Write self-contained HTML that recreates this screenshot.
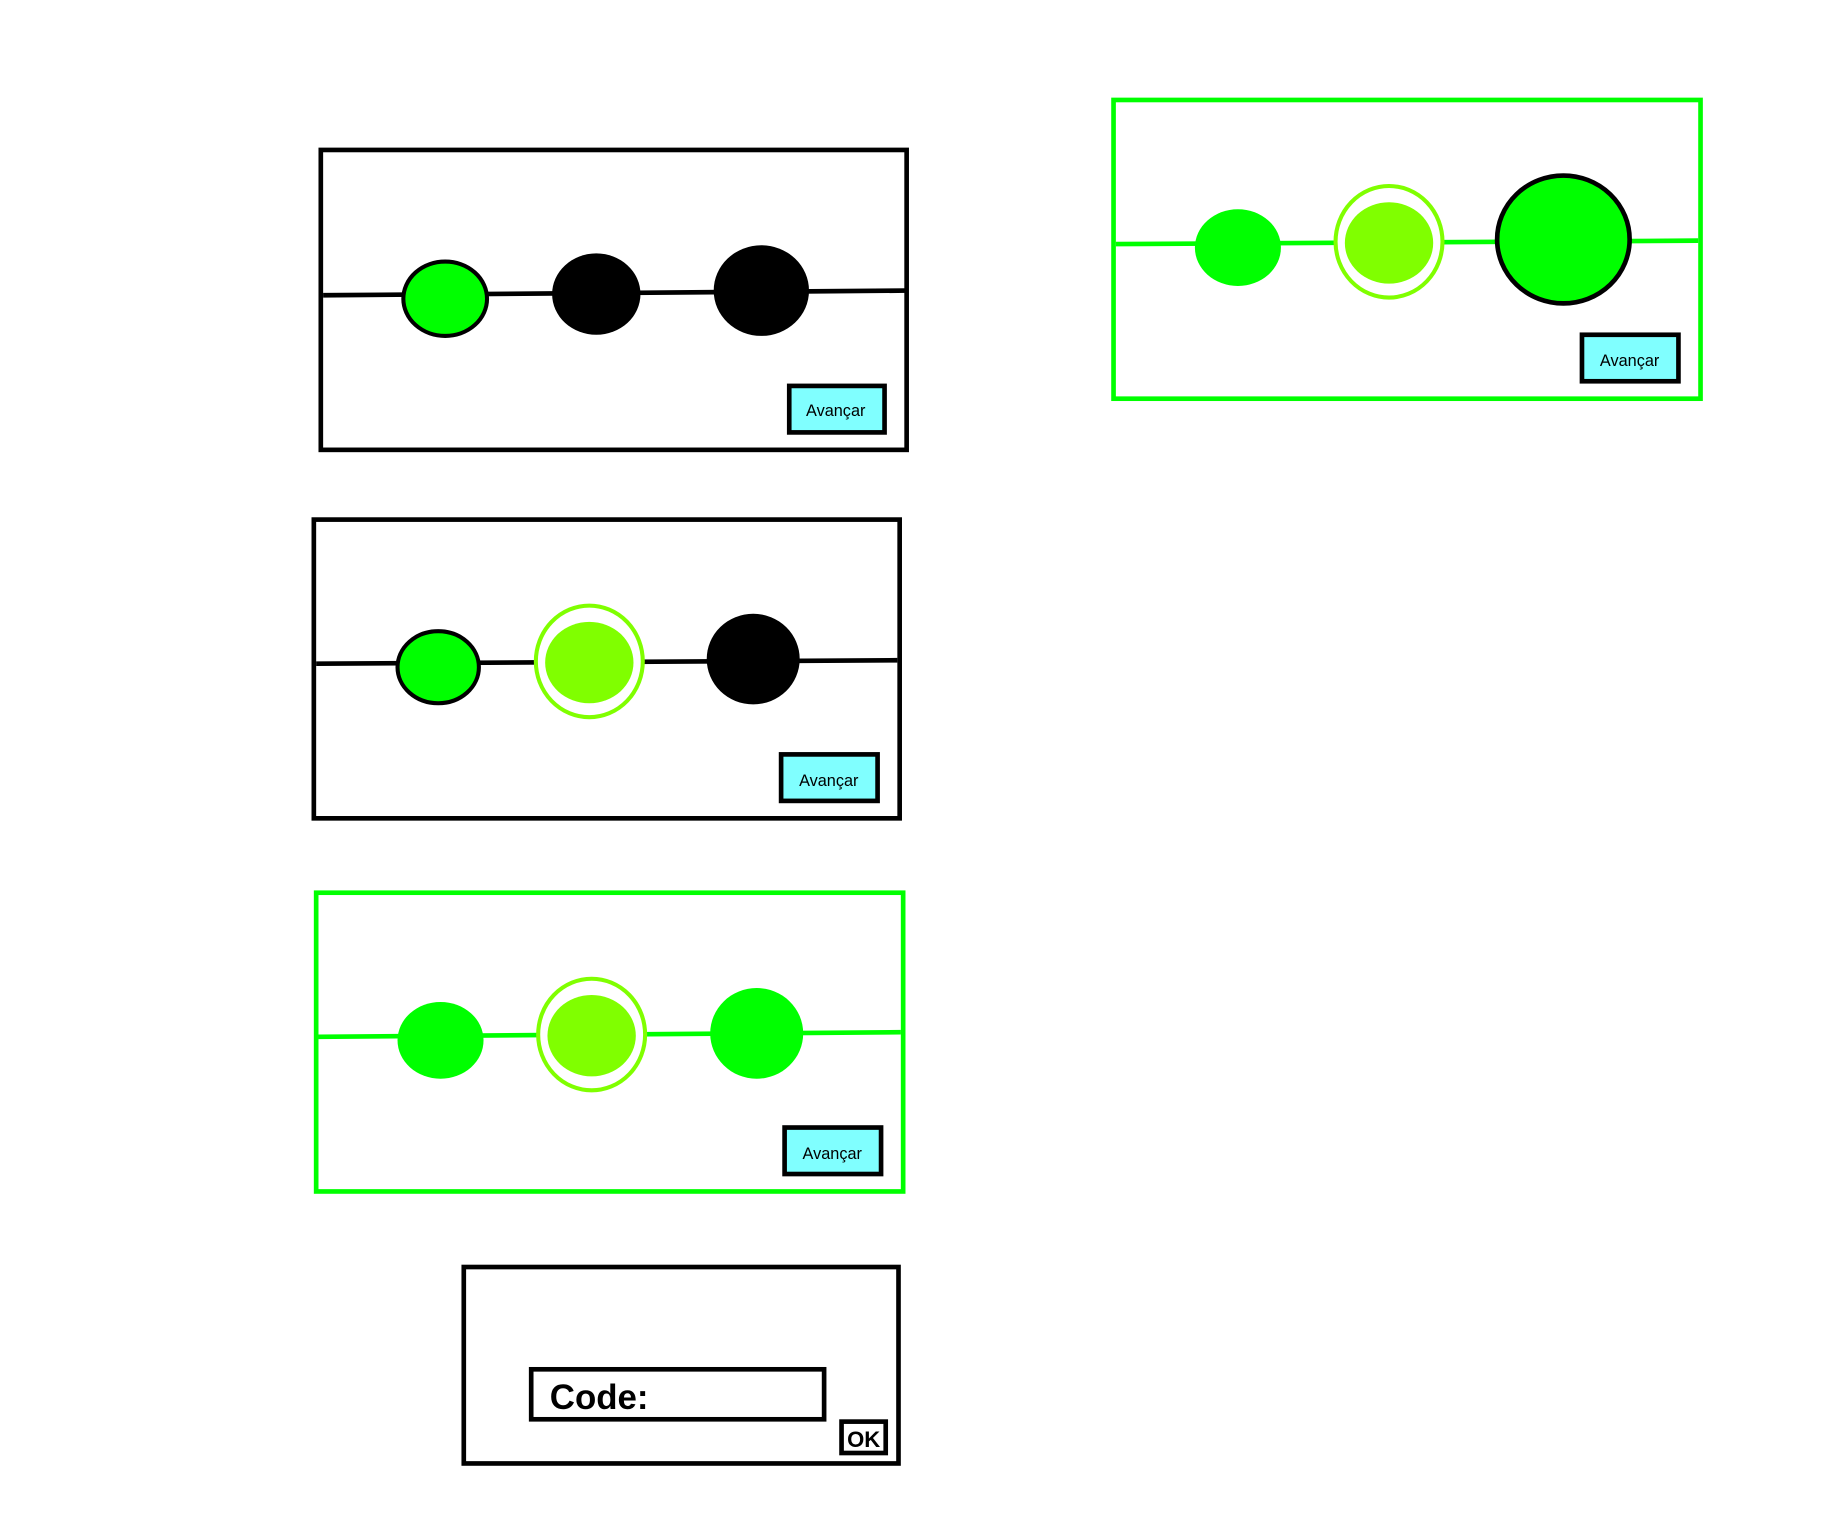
<!DOCTYPE html>
<html><head><meta charset="utf-8"><style>html,body{margin:0;padding:0;background:#fff;}svg{display:block}</style></head>
<body>
<svg width="1822" height="1526" viewBox="0 0 1567.5 1312.8" preserveAspectRatio="none" xmlns="http://www.w3.org/2000/svg" font-family="Liberation Sans, sans-serif">
<rect width="1567.5" height="1312.8" fill="#fff"/>
<!-- Frame 1 -->
<rect x="276" y="129" width="504" height="258" fill="#fff" stroke="#000" stroke-width="4"/>
<polyline points="278,254 780,250" fill="none" stroke="#000" stroke-width="4"/>
<ellipse cx="383" cy="257" rx="36" ry="32" fill="#00ff00" stroke="#000" stroke-width="3.5"/>
<ellipse cx="513" cy="253" rx="38" ry="35" fill="#000"/>
<ellipse cx="655" cy="250" rx="41" ry="39" fill="#000"/>
<rect x="679" y="332" width="82" height="40" fill="#80ffff" stroke="#000" stroke-width="4"/>
<text x="719" y="358" font-size="14" text-anchor="middle" fill="#000">Avançar</text>
<!-- Frame 2 -->
<rect x="270" y="447" width="504" height="257" fill="#fff" stroke="#000" stroke-width="4"/>
<polyline points="272,571 772,568" fill="none" stroke="#000" stroke-width="4"/>
<ellipse cx="377" cy="574" rx="35" ry="31" fill="#00ff00" stroke="#000" stroke-width="3.5"/>
<ellipse cx="507" cy="569" rx="46" ry="48" fill="#fff" stroke="#80ff00" stroke-width="3.5"/>
<ellipse cx="507" cy="570" rx="38" ry="35" fill="#80ff00"/>
<ellipse cx="648" cy="567" rx="40" ry="39" fill="#000"/>
<rect x="672" y="649" width="83" height="40" fill="#80ffff" stroke="#000" stroke-width="4"/>
<text x="713" y="676" font-size="14" text-anchor="middle" fill="#000">Avançar</text>
<!-- Frame 3 -->
<rect x="272" y="768" width="505" height="257" fill="#fff" stroke="#00ff00" stroke-width="4"/>
<polyline points="274,892 775,888" fill="none" stroke="#00ff00" stroke-width="4"/>
<ellipse cx="379" cy="895" rx="37" ry="33" fill="#00ff00"/>
<ellipse cx="509" cy="890" rx="46" ry="48" fill="#fff" stroke="#80ff00" stroke-width="3.5"/>
<ellipse cx="509" cy="891" rx="38" ry="35" fill="#80ff00"/>
<ellipse cx="651" cy="889" rx="40" ry="39" fill="#00ff00"/>
<rect x="675" y="970" width="83" height="40" fill="#80ffff" stroke="#000" stroke-width="4"/>
<text x="716" y="997" font-size="14" text-anchor="middle" fill="#000">Avançar</text>
<!-- Frame 4 -->
<rect x="958" y="86" width="505" height="257" fill="#fff" stroke="#00ff00" stroke-width="4"/>
<polyline points="960,210 1461,207" fill="none" stroke="#00ff00" stroke-width="4"/>
<ellipse cx="1065" cy="213" rx="37" ry="33" fill="#00ff00"/>
<ellipse cx="1195" cy="208" rx="46" ry="48" fill="#fff" stroke="#80ff00" stroke-width="3.5"/>
<ellipse cx="1195" cy="209" rx="38" ry="35" fill="#80ff00"/>
<ellipse cx="1345" cy="206" rx="57" ry="55" fill="#00ff00" stroke="#000" stroke-width="4"/>
<rect x="1361" y="288" width="83" height="40" fill="#80ffff" stroke="#000" stroke-width="4"/>
<text x="1402" y="315" font-size="14" text-anchor="middle" fill="#000">Avançar</text>
<!-- Frame 5 -->
<rect x="399" y="1090" width="374" height="169" fill="#fff" stroke="#000" stroke-width="4"/>
<rect x="457" y="1178" width="252" height="43" fill="#fff" stroke="#000" stroke-width="4"/>
<text x="473" y="1212" font-size="30" font-weight="bold" fill="#000">Code:</text>
<rect x="724" y="1223" width="38" height="27" fill="#fff" stroke="#000" stroke-width="4"/>
<text x="743" y="1245" font-size="19" font-weight="bold" text-anchor="middle" fill="#000">OK</text>
</svg>
</body></html>
